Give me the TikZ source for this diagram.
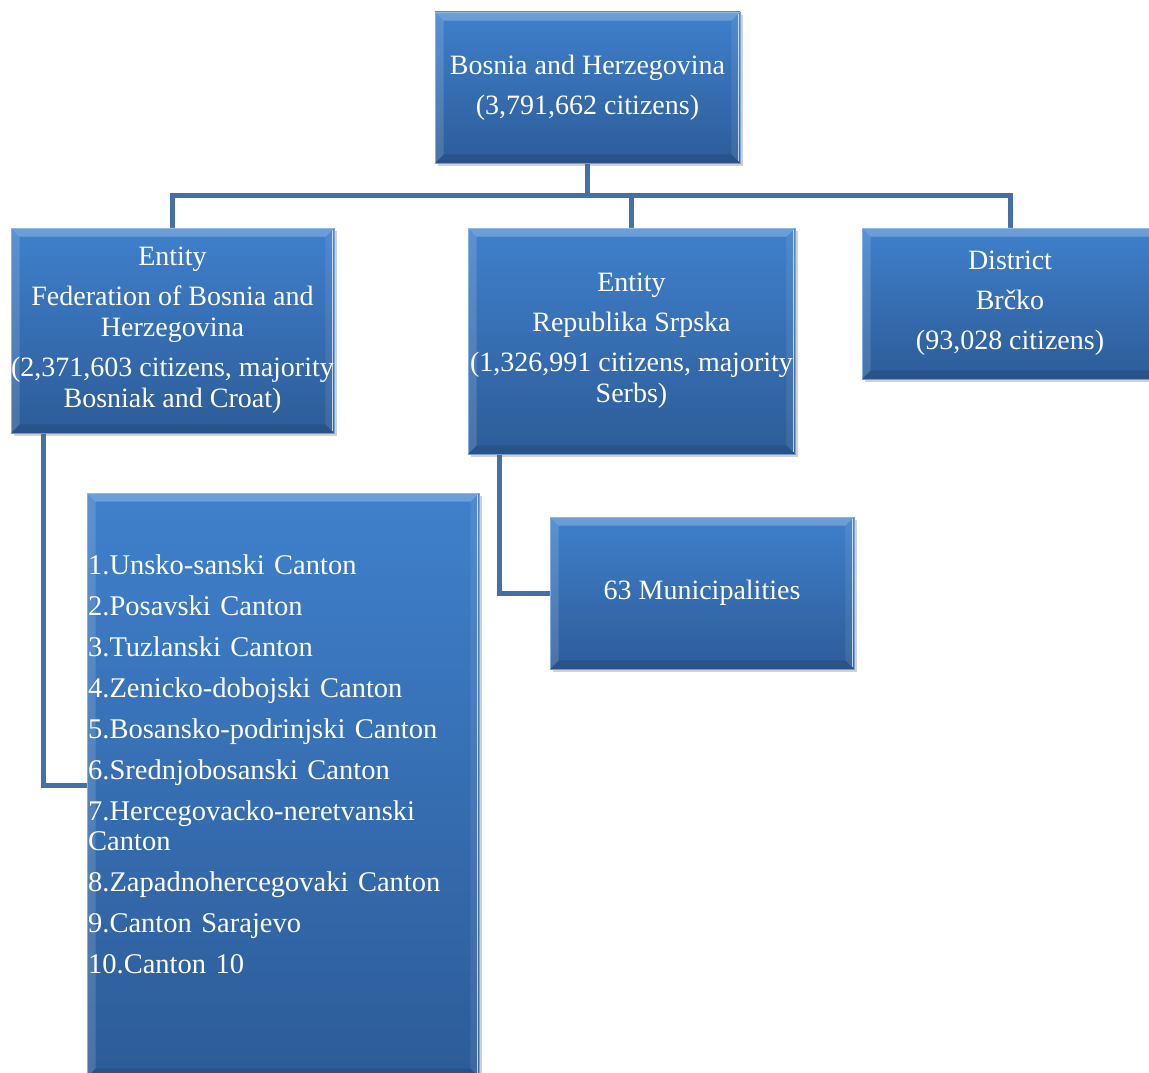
\documentclass[tikz,border=0pt]{standalone}
\usepackage{fontspec}
\setmainfont{Liberation Serif}
\usetikzlibrary{calc,shadows,backgrounds}

\definecolor{boxtop}{HTML}{3F80CC}
\definecolor{boxbot}{HTML}{2D5C98}
\definecolor{boxedge}{HTML}{6FA3DD}
\definecolor{linkcol}{HTML}{4470A6}

\tikzset{
  orgbox/.style={rectangle, inner sep=0pt, top color=boxtop, bottom color=boxbot,
    draw=boxedge, line width=0.8pt, text=white, align=center,
    font=\fontsize{28}{31}\selectfont,
    drop shadow={shadow xshift=3pt, shadow yshift=-3pt, opacity=0.3, fill=black!60}},
  link/.style={draw=linkcol, line width=5pt},
  listtext/.style={text=white, align=left, inner sep=0pt, text width=400pt,
    font=\fontsize{28.5}{30}\selectfont}
}

% light and dark bands along the edges of a box
\newcommand\bevel[1]{%
  \fill[white,opacity=.24] (#1.north west) -- (#1.north east) -- ($(#1.north east)+(-9,9)$) -- ($(#1.north west)+(9,9)$) -- cycle;
  \fill[white,opacity=.14] (#1.north west) -- ($(#1.north west)+(9,9)$) -- ($(#1.south west)+(9,-9)$) -- (#1.south west) -- cycle;
  \fill[white,opacity=.08] (#1.north east) -- (#1.south east) -- ($(#1.south east)+(-9,-9)$) -- ($(#1.north east)+(-9,9)$) -- cycle;
  \fill[black,opacity=.10] (#1.south west) -- (#1.south east) -- ($(#1.south east)+(-9,-9)$) -- ($(#1.south west)+(9,-9)$) -- cycle;
  \draw[white,opacity=.7,line width=1.2pt] ($(#1.north east)+(-2,2)$) -- ($(#1.south east)+(-2,-2)$);
}

\begin{document}
\begin{tikzpicture}[x=1pt,y=-1pt]
\useasboundingbox (0,0) rectangle (1149,1073);
\clip (0,0) rectangle (1149,1073);

% boxes
\node[orgbox, minimum width=305, minimum height=151] (bih) at (587.5,87.5)
  {Bosnia and Herzegovina\\[9pt](3,791,662 citizens)};
\node[orgbox, minimum width=323, minimum height=205] (fbih) at (172.5,330.5)
  {Entity\\[9pt]Federation of Bosnia and\\Herzegovina\\[9pt](2,371,603 citizens, majority\\Bosniak and Croat)};
\node[orgbox, minimum width=327, minimum height=226] (rs) at (631.5,341)
  {Entity\\[9pt]Republika Srpska\\[9pt](1,326,991 citizens, majority\\Serbs)};
\node[orgbox, minimum width=296, minimum height=151] (brcko) at (1010,303.5)
  {District\\[9pt]Brčko\\[9pt](93,028 citizens)};
\node[orgbox, minimum width=392, minimum height=584] (cantons) at (283,785) {};
\node[orgbox, minimum width=304, minimum height=152] (muni) at (702,593)
  {63 Municipalities};

\bevel{bih}
\bevel{fbih}
\bevel{rs}
\bevel{brcko}
\bevel{cantons}
\bevel{muni}

% list of cantons
\node[listtext, anchor=west] (cantonlist) at (88,764)
  {1.Unsko-sanski Canton\\[11pt]
   2.Posavski Canton\\[11pt]
   3.Tuzlanski Canton\\[11pt]
   4.Zenicko-dobojski Canton\\[11pt]
   5.Bosansko-podrinjski Canton\\[11pt]
   6.Srednjobosanski Canton\\[11pt]
   7.Hercegovacko-neretvanski\\Canton\\[11pt]
   8.Zapadnohercegovaki Canton\\[11pt]
   9.Canton Sarajevo\\[11pt]
   10.Canton 10};

% connectors
\begin{scope}[on background layer]
  \coordinate (bus) at (587.5,195);
  \draw[link] (bih.south) -- (bus) -| (fbih.north);
  \draw[link] (bus) -| (rs.north);
  \draw[link] (bus) -| (brcko.north);
  \draw[link] ([xshift=33pt]fbih.south west) |- (cantons.west);
  \draw[link] ([xshift=32pt]rs.south west) |- (muni.west);
\end{scope}
\end{tikzpicture}
\end{document}
